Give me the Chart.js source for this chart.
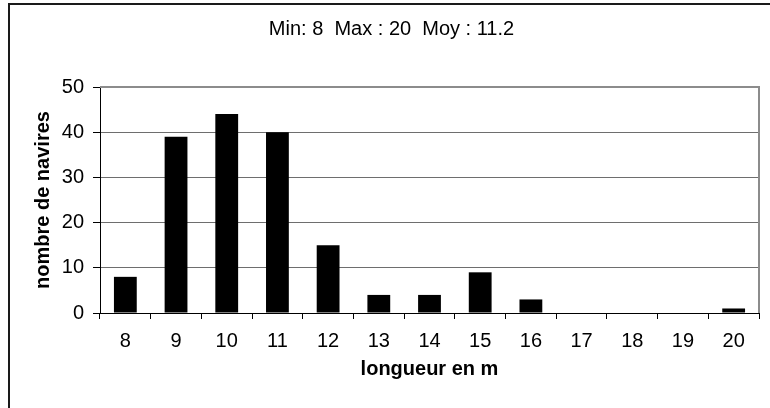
<!DOCTYPE html>
<html lang="fr">
<head>
    <meta charset="UTF-8">
    <title>Longueur des navires</title>
    <script src="https://cdn.jsdelivr.net/npm/chart.js"></script>
    <style>
        body { margin: 0; background: #fff; }
        #wrap { position: relative; width: 770px; height: 408px; overflow: hidden; }
        #frame { position: absolute; left: 8px; top: 3px; width: 900px; height: 600px;
                 border-left: 2px solid #1a1a1a; border-top: 2px solid #1a1a1a; }
        canvas { position: absolute; left: 0; top: 0; }
    </style>
</head>
<body>
    <div id="wrap">
        <div id="frame"></div>
        <canvas id="chart" width="770" height="408"></canvas>
    </div>

    <script>
        const longueurs = ['8', '9', '10', '11', '12', '13', '14', '15', '16', '17', '18', '19', '20'];
        const navires = [8, 39, 44, 40, 15, 4, 4, 9, 3, 0, 0, 0, 1];
        const titre = 'Min: 8  Max : 20  Moy : 11.2';
        const font = 'Liberation Sans, Arial, sans-serif';

        // gray box on top and right of the plot area
        const plotBox = {
            id: 'plotBox',
            afterDraw(chart) {
                const { ctx, chartArea: a } = chart;
                ctx.save();
                ctx.strokeStyle = '#8c8c8c';
                ctx.lineWidth = 2;
                ctx.beginPath();
                ctx.moveTo(a.left, a.top);
                ctx.lineTo(a.right, a.top);
                ctx.lineTo(a.right, a.bottom);
                ctx.stroke();
                ctx.restore();
            }
        };

        const ctx = document.getElementById('chart').getContext('2d');
        new Chart(ctx, {
            type: 'bar',
            data: {
                labels: longueurs,
                datasets: [{
                    data: navires,
                    backgroundColor: '#000',
                    barPercentage: 0.45,
                    categoryPercentage: 1
                }]
            },
            options: {
                responsive: false,
                animation: false,
                layout: { padding: { left: 24, right: 11, top: 0, bottom: 0 } },
                plugins: {
                    legend: { display: false },
                    tooltip: { enabled: false },
                    title: {
                        display: true,
                        text: titre,
                        color: '#000',
                        font: { family: font, size: 20, weight: 'normal', lineHeight: 1.2 },
                        padding: { top: 17, bottom: 46 }
                    }
                },
                scales: {
                    x: {
                        afterFit: s => { s.height = 95; },
                        grid: { drawOnChartArea: false, offset: true, tickLength: 6, tickColor: '#000' },
                        border: { color: '#000', width: 1 },
                        ticks: { color: '#000', padding: 10, font: { family: font, size: 20 } },
                        title: {
                            display: true,
                            text: 'longueur en m',
                            color: '#000',
                            font: { family: font, size: 20, weight: 'bold', lineHeight: 1.2 },
                            padding: { top: 0, bottom: 27 }
                        }
                    },
                    y: {
                        min: 0,
                        max: 50,
                        afterFit: s => { s.width = 76; },
                        grid: {
                            color: ctx => ctx.tick && ctx.tick.value === 50 ? 'rgba(0,0,0,0)' : '#6e6e6e',
                            tickLength: 7,
                            tickColor: '#000'
                        },
                        border: { color: '#000', width: 1 },
                        ticks: { stepSize: 10, color: '#000', padding: 9, font: { family: font, size: 20 } },
                        title: {
                            display: true,
                            text: 'nombre de navires',
                            color: '#000',
                            font: { family: font, size: 20, weight: 'bold', lineHeight: 1.2 },
                            padding: { top: 7, bottom: 0 }
                        }
                    }
                }
            },
            plugins: [plotBox]
        });
    </script>
</body>
</html>
